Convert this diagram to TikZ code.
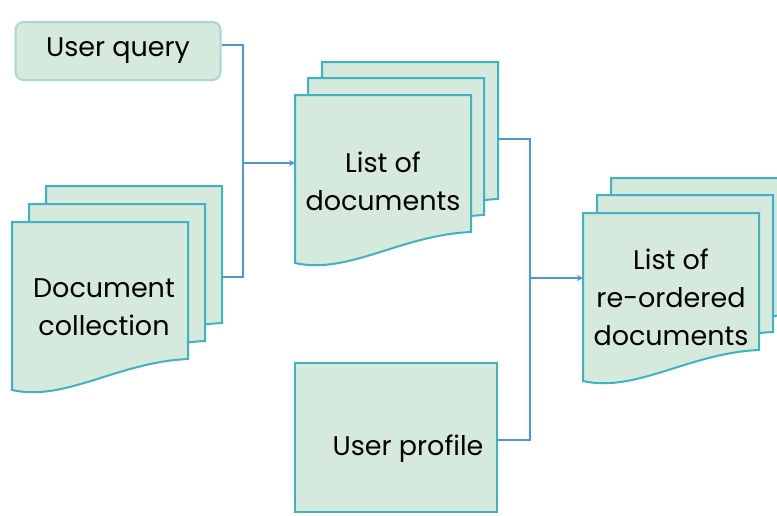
\documentclass[tikz,border=0pt]{standalone}
\usepackage{fontspec}
\setmainfont{Poppins}
\usetikzlibrary{arrows.meta}
\definecolor{sheetfill}{HTML}{D5E9DD}
\definecolor{sheetline}{HTML}{40B2C2}
\definecolor{linkblue}{HTML}{4F97CF}
\definecolor{queryline}{HTML}{A8D7D2}
\tikzset{
  sheet/.style={draw=sheetline, fill=sheetfill, line width=2pt},
  link/.style={draw=linkblue, line width=2.6pt},
  doctext/.style={font=\fontsize{27}{38}\selectfont, align=center},
}
% one page of a document stack, top left corner at (#1,#2)
\newcommand\docsheet[2]{%
  \path[sheet] (#1,#2) -- (#1+176,#2)
                       -- (#1+176,#2+137)
                       .. controls (#1+106,#2+140) and (#1+53,#2+180) .. (#1,#2+168)
                       -- cycle;}
\begin{document}
\begin{tikzpicture}[x=1pt,y=-1pt]
\useasboundingbox (0,0) rectangle (777,515);
\node[draw=queryline, fill=sheetfill, line width=2pt, rounded corners=8pt,
      minimum width=205pt, minimum height=58pt, doctext] (query) at (118,51) {User query};

\docsheet{46}{186}
\docsheet{29}{204}
\docsheet{12}{222}
\node[doctext] (collection) at (104,307) {Document\\collection};

\docsheet{322}{62}
\docsheet{308}{78}
\docsheet{295}{95}
\node[doctext] (documents) at (383,181) {List of\\documents};

\node[sheet, minimum width=202pt, minimum height=149pt] (profile) at (396,437.5) {};
\node[doctext] (profiletext) at (408,449) {User profile};

\docsheet{611}{178}
\docsheet{597}{195}
\docsheet{583}{213}
\node[doctext] (reordered) at (671,297) {List of\\re-ordered\\documents};

\coordinate (collout) at (222,277);
\coordinate (docsin) at (295,163);
\coordinate (docsout) at (498,139);
\coordinate (reordin) at (583,278);
\coordinate (leftjoin) at (243,163);
\coordinate (rightjoin) at (530,278);

\draw[link] ([yshift=6pt]query.east) -| (leftjoin) |- (collout);
\draw[link,-{Stealth[length=6pt,width=6pt]}] (leftjoin) -- (docsin);
\draw[link] (docsout) -| (rightjoin) |- ([yshift=-2.5pt]profile.east);
\draw[link,-{Stealth[length=6pt,width=6pt]}] (rightjoin) -- (reordin);
\end{tikzpicture}
\end{document}
